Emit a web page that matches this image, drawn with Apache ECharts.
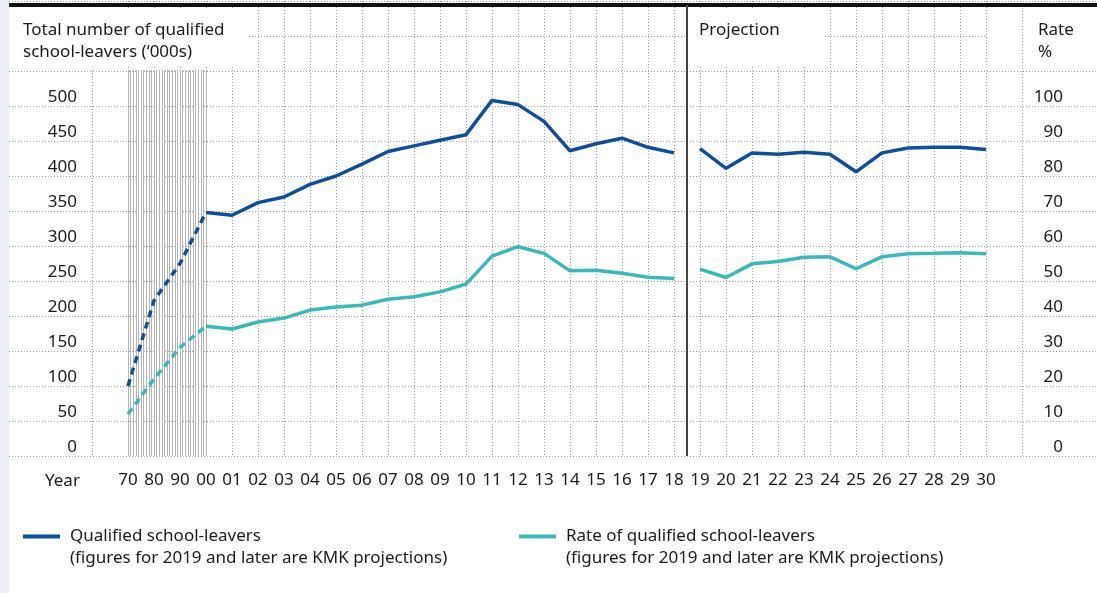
<!DOCTYPE html>
<html>
<head>
<meta charset="utf-8">
<title>Qualified school-leavers</title>
<script src="https://cdn.jsdelivr.net/npm/echarts@6/dist/echarts.min.js"></script>
</head>
<body style="margin:0;background:#e9eff5;">
<div id="main" style="position:absolute;left:9px;top:0;width:1088px;height:593px;background:#fff;"></div>
<script>
// categories: 70, 80, 90, then every year 2000-2030
var years = ['70', '80', '90', '00', '01', '02', '03', '04', '05', '06', '07', '08', '09',
  '10', '11', '12', '13', '14', '15', '16', '17', '18', '19', '20', '21', '22', '23', '24',
  '25', '26', '27', '28', '29', '30'];

// qualified school-leavers ('000s)
var qualifiedEarly = [100, 222, 275, 348];            // 70, 80, 90, 00 (dashed)
var qualified = [348, 344, 362, 370, 388, 400, 417, 435, 443, 451, 459, 508, 502, 478,
  436, 446, 454, 441, 433];                            // 00 - 18
var qualifiedProj = [439, 411, 433, 431, 434, 431, 406, 433, 440, 441, 441, 438]; // 19 - 30

// rate of qualified school-leavers (%)
var rateEarly = [12, 22, 31, 37.1];
var rate = [37.1, 36.3, 38.3, 39.4, 41.7, 42.6, 43.1, 44.8, 45.5, 46.9, 49.1, 57.1, 59.8,
  57.9, 52.9, 53.1, 52.2, 51.1, 50.7];
var rateProj = [53.4, 51.0, 54.9, 55.6, 56.8, 56.9, 53.5, 56.9, 57.8, 57.9, 58.1, 57.8];

var nameQ = 'Qualified school-leavers';
var nameR = 'Rate of qualified school-leavers';
var note = '(figures for 2019 and later are KMK projections)';

var blue = '#0b4f9e';
var cyan = '#36b9bf';
var ink = '#1a1a1a';
var font = "'Noto Sans', Roboto, sans-serif";
var fs = 17;
var dots = {color: '#999', width: 1, type: [1, 2]};

function place(values, start) {
  var out = years.map(function () { return null; });
  values.forEach(function (v, i) { out[start + i] = v; });
  return out;
}

function line(name, data, color, yIdx, dashed) {
  return {
    name: name, type: 'line', xAxisIndex: 0, yAxisIndex: yIdx,
    data: data, symbol: 'none', z: 3,
    itemStyle: {color: color},
    lineStyle: {color: color, width: 3.5, type: dashed ? [7, 5] : 'solid'}
  };
}

var myChart = echarts.init(document.getElementById('main'));

myChart.setOption({
  animation: false,
  textStyle: {fontFamily: font},
  grid: [
    {left: 119, right: 111, top: 1, bottom: 137},   // main
    {left: 0, right: 0, top: 1, bottom: 137},       // full-width dotted rows
    {left: 119, width: 78, top: 70, bottom: 137}    // 1970-2000 hatching
  ],
  xAxis: [{
    gridIndex: 0, type: 'category', data: years, boundaryGap: false,
    axisLine: {show: false}, axisTick: {show: false},
    axisLabel: {interval: 0, margin: 16, color: ink, fontSize: fs, fontFamily: font},
    splitLine: {show: true, interval: 0, lineStyle: dots}
  }, {
    gridIndex: 1, type: 'value', min: 0, max: 1, show: false
  }, {
    gridIndex: 2, type: 'value', min: 1970, max: 2000, interval: 1,
    axisLine: {show: false}, axisTick: {show: false}, axisLabel: {show: false},
    splitLine: {show: true, lineStyle: {color: '#b4b4b4', width: 1, type: 'solid'}}
  }],
  yAxis: [{
    gridIndex: 0, type: 'value', position: 'left', min: 0, max: 650, interval: 50,
    axisLine: {show: false}, axisTick: {show: false}, splitLine: {show: false},
    axisLabel: {
      margin: 51, verticalAlign: 'bottom', color: ink, fontSize: fs, fontFamily: font,
      formatter: function (v) { return v > 500 ? '' : v; }
    }
  }, {
    gridIndex: 0, type: 'value', position: 'right', min: 0, max: 130, interval: 10,
    axisLine: {show: false}, axisTick: {show: false}, splitLine: {show: false},
    axisLabel: {
      margin: 77, align: 'right', verticalAlign: 'bottom', color: ink, fontSize: fs, fontFamily: font,
      formatter: function (v) { return v > 100 ? '' : v; }
    }
  }, {
    gridIndex: 1, type: 'value', min: 0, max: 650, interval: 50,
    axisLine: {show: false}, axisTick: {show: false}, axisLabel: {show: false},
    splitLine: {show: true, lineStyle: dots}
  }, {
    gridIndex: 2, type: 'value', min: 0, max: 1, show: false
  }],
  legend: [{
    data: [nameQ], left: 14, top: 528, padding: 0, icon: 'rect', itemWidth: 37, itemHeight: 4,
    selectedMode: false,
    textStyle: {color: ink, fontSize: fs, fontFamily: font, padding: [0, 0, 0, 5]}
  }, {
    data: [nameR], left: 510, top: 528, padding: 0, icon: 'rect', itemWidth: 37, itemHeight: 4,
    selectedMode: false,
    textStyle: {color: ink, fontSize: fs, fontFamily: font, padding: [0, 0, 0, 5]}
  }],
  graphic: [
    {type: 'rect', z: 1, shape: {x: 0, y: 8, width: 240, height: 58}, style: {fill: '#fff'}},
    {type: 'rect', z: 1, shape: {x: 680, y: 8, width: 136, height: 58}, style: {fill: '#fff'}},
    {type: 'rect', z: 1, shape: {x: 978, y: 8, width: 110, height: 58}, style: {fill: '#fff'}},
    {type: 'line', z: 2, shape: {x1: 83.5, y1: 70, x2: 83.5, y2: 456}, style: {stroke: '#999', lineWidth: 1, lineDash: [1, 2]}},
    {type: 'line', z: 2, shape: {x1: 1013.5, y1: 8, x2: 1013.5, y2: 456}, style: {stroke: '#999', lineWidth: 1, lineDash: [1, 2]}},
    {type: 'rect', z: 5, shape: {x: 0, y: 3, width: 1088, height: 4}, style: {fill: '#111'}},
    {type: 'rect', z: 5, shape: {x: 677, y: 5, width: 2, height: 451}, style: {fill: '#444'}},
    {type: 'text', z: 5, x: 14, y: 19, style: {text: 'Total number of qualified\nschool-leavers (\u2018000s)', font: fs + 'px ' + font, fill: ink, lineHeight: 22}},
    {type: 'text', z: 5, x: 690, y: 19, style: {text: 'Projection', font: fs + 'px ' + font, fill: ink, lineHeight: 22}},
    {type: 'text', z: 5, x: 1029, y: 19, style: {text: 'Rate\n%', font: fs + 'px ' + font, fill: ink, lineHeight: 22}},
    {type: 'text', z: 5, x: 36, y: 471, style: {text: 'Year', font: fs + 'px ' + font, fill: ink, lineHeight: 20}},
    {type: 'text', z: 5, x: 61, y: 548, style: {text: note, font: fs + 'px ' + font, fill: ink, lineHeight: 21}},
    {type: 'text', z: 5, x: 557, y: 548, style: {text: note, font: fs + 'px ' + font, fill: ink, lineHeight: 21}}
  ],
  series: [
    line(nameQ, place(qualifiedEarly, 0), blue, 0, true),
    line(nameQ, place(qualified, 3), blue, 0, false),
    line(nameQ, place(qualifiedProj, 22), blue, 0, false),
    line(nameR, place(rateEarly, 0), cyan, 1, true),
    line(nameR, place(rate, 3), cyan, 1, false),
    line(nameR, place(rateProj, 22), cyan, 1, false)
  ]
});
</script>
</body>
</html>
